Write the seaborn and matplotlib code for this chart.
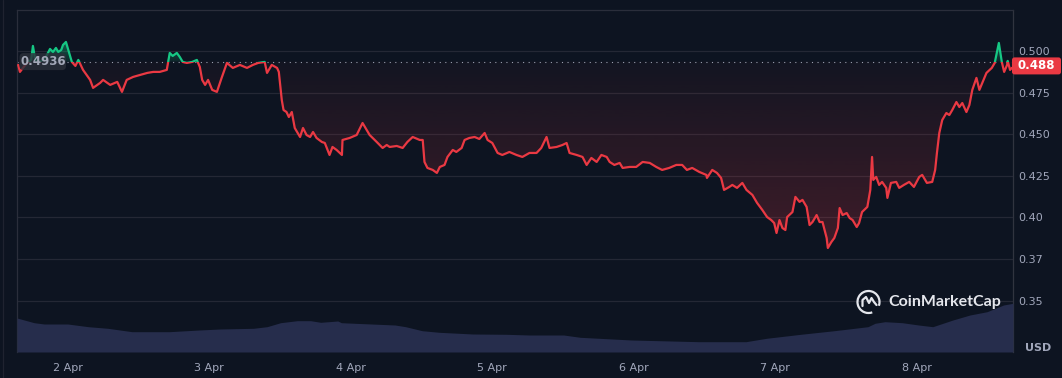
import numpy as np
import matplotlib
matplotlib.use("Agg")
import matplotlib.pyplot as plt
from matplotlib.patches import Rectangle, FancyBboxPatch, Arc
from matplotlib.transforms import IdentityTransform
import seaborn as sns
import pandas as pd

# ---------------- data (hours since 1 Apr 00:00, price in USD) ----------------
hours = [15.6, 15.9, 16.4, 17.1, 17.8, 18.1, 18.5, 19.3, 20.2, 21.0, 21.5, 22.0, 22.4, 22.9, 23.2, 23.7,
         24.1, 24.4, 24.7, 25.3, 25.8, 26.6, 27.8, 28.3, 29.5, 30.0, 31.2, 32.4, 33.2, 34.0, 35.1, 36.3,
         37.5, 38.5, 39.6, 40.8, 41.3, 41.8, 42.5, 43.0, 43.5, 44.2, 45.1, 45.9, 46.4, 46.8, 47.3, 47.8,
         48.5, 49.3, 50.1, 51.0, 52.0, 53.2, 54.4, 55.4, 56.3, 57.4, 57.8, 58.6, 59.5, 59.8, 60.3, 60.6,
         61.1, 61.5, 62.0, 62.5, 63.0, 63.4, 63.9, 64.5, 65.1, 65.6, 66.2, 67.1, 67.6, 68.4, 68.9, 69.6,
         70.5, 70.6, 71.8, 73.0, 74.0, 74.7, 75.2, 76.4, 77.4, 78.1, 78.6, 79.8, 80.8, 81.6, 82.5, 83.7,
         84.2, 84.5, 85.0, 85.9, 86.6, 87.1, 87.9, 88.4, 89.3, 89.9, 90.8, 91.3, 92.1, 93.0, 93.8, 94.7,
         95.2, 96.0, 96.9, 97.7, 98.9, 100.1, 101.1, 102.3, 103.5, 104.3, 105.2, 105.7, 106.9, 107.9, 108.6, 109.1,
         110.3, 111.3, 112.0, 112.8, 113.7, 114.5, 115.4, 115.9, 116.7, 117.6, 118.1, 119.3, 120.4, 121.5, 122.7, 123.8,
         124.8, 126.0, 127.2, 128.2, 129.0, 129.9, 131.1, 132.3, 132.4, 133.3, 134.1, 134.8, 135.3, 136.2, 136.7, 137.5,
         138.4, 139.1, 140.1, 140.9, 141.8, 142.6, 143.3, 143.8, 144.2, 144.7, 145.2, 145.7, 146.0, 146.9, 147.4, 148.1,
         148.6, 149.3, 149.8, 150.3, 151.0, 151.5, 152.0, 152.7, 152.9, 153.5, 154.0, 154.6, 154.9, 155.4, 156.1, 156.6,
         157.1, 157.8, 158.2, 158.7, 159.6, 160.1, 160.4, 160.6, 161.1, 161.6, 162.1, 162.8, 163.0, 163.6, 164.5, 165.0,
         165.8, 166.7, 167.5, 168.4, 168.9, 169.7, 170.6, 171.1, 171.4, 171.8, 172.3, 173.0, 173.5, 174.0, 174.7, 175.2,
         175.7, 176.4, 176.9, 177.4, 178.1, 178.6, 179.1, 179.8, 180.7, 181.2, 181.9, 182.4, 182.8, 183.3, 183.4, 183.8,
         184.1]
prices = [0.4916, 0.4874, 0.4898, 0.4928, 0.4946, 0.5030, 0.4946, 0.4934, 0.4958, 0.5012, 0.4994, 0.5018, 0.4994, 0.5006, 0.5036, 0.5054,
          0.5006, 0.4970, 0.4934, 0.4910, 0.4946, 0.4886, 0.4826, 0.4778, 0.4808, 0.4826, 0.4796, 0.4814, 0.4754, 0.4826, 0.4844, 0.4856,
          0.4868, 0.4874, 0.4874, 0.4886, 0.4988, 0.4970, 0.4988, 0.4964, 0.4934, 0.4928, 0.4934, 0.4946, 0.4904, 0.4826, 0.4796, 0.4826,
          0.4766, 0.4754, 0.4838, 0.4928, 0.4898, 0.4916, 0.4898, 0.4916, 0.4928, 0.4934, 0.4868, 0.4916, 0.4898, 0.4874, 0.4705, 0.4645,
          0.4633, 0.4603, 0.4633, 0.4537, 0.4507, 0.4483, 0.4537, 0.4495, 0.4483, 0.4513, 0.4477, 0.4453, 0.4447, 0.4375, 0.4423, 0.4405,
          0.4375, 0.4465, 0.4477, 0.4495, 0.4567, 0.4525, 0.4495, 0.4453, 0.4417, 0.4435, 0.4423, 0.4429, 0.4417, 0.4453, 0.4483, 0.4465,
          0.4465, 0.4333, 0.4297, 0.4285, 0.4267, 0.4303, 0.4315, 0.4363, 0.4405, 0.4393, 0.4417, 0.4465, 0.4477, 0.4483, 0.4471, 0.4507,
          0.4465, 0.4447, 0.4387, 0.4375, 0.4393, 0.4375, 0.4363, 0.4387, 0.4387, 0.4417, 0.4483, 0.4417, 0.4423, 0.4435, 0.4447, 0.4387,
          0.4375, 0.4363, 0.4315, 0.4357, 0.4333, 0.4375, 0.4363, 0.4333, 0.4315, 0.4327, 0.4297, 0.4303, 0.4303, 0.4333, 0.4327, 0.4303,
          0.4285, 0.4297, 0.4315, 0.4315, 0.4285, 0.4297, 0.4273, 0.4255, 0.4237, 0.4285, 0.4267, 0.4237, 0.4165, 0.4183, 0.4195, 0.4177,
          0.4207, 0.4165, 0.4135, 0.4087, 0.4044, 0.4002, 0.3984, 0.3966, 0.3906, 0.3984, 0.3936, 0.3924, 0.4002, 0.4032, 0.4123, 0.4093,
          0.4105, 0.4063, 0.3954, 0.3972, 0.4014, 0.3972, 0.3972, 0.3876, 0.3816, 0.3852, 0.3876, 0.3936, 0.4056, 0.4014, 0.4026, 0.3996,
          0.3984, 0.3942, 0.3966, 0.4032, 0.4063, 0.4165, 0.4363, 0.4225, 0.4243, 0.4195, 0.4213, 0.4177, 0.4117, 0.4207, 0.4213, 0.4177,
          0.4195, 0.4213, 0.4183, 0.4243, 0.4255, 0.4207, 0.4213, 0.4285, 0.4387, 0.4507, 0.4585, 0.4627, 0.4615, 0.4645, 0.4693, 0.4663,
          0.4687, 0.4633, 0.4675, 0.4766, 0.4838, 0.4766, 0.4808, 0.4868, 0.4898, 0.4928, 0.5048, 0.4934, 0.4874, 0.4916, 0.4940, 0.4886,
          0.4898]

# volume (relative units)
vol_hours = [15.4, 18.3, 20.0, 24.0, 27.5, 30.8, 34.9, 41.2, 46.3, 49.8, 55.5, 57.8, 60.1, 62.9, 65.2, 66.9,
             69.8, 70.4, 72.7, 75.5, 79.5, 81.3, 84.1, 87.0, 92.7, 98.4, 102.3, 108.1, 110.9, 119.6, 131.1, 139.0,
             142.5, 148.3, 154.0, 159.7, 160.9, 162.6, 165.5, 168.3, 170.7, 174.1, 177.0, 179.9, 182.7, 184.3]
vol_values = [340, 293, 280, 280, 253, 237, 203, 203, 220, 230, 237, 253, 293, 313, 313, 297,
              310, 293, 287, 280, 270, 253, 213, 197, 180, 177, 170, 170, 147, 120, 103, 103,
              137, 177, 213, 253, 287, 303, 293, 270, 253, 320, 370, 403, 470, 487]

baseline = 0.4936
baseline_label = "0.4936"
last_label = "0.488"
ytick_vals = [0.35, 0.375, 0.40, 0.425, 0.45, 0.475, 0.50]
ytick_labels = ["0.35", "0.37", "0.40", "0.425", "0.450", "0.475", "0.500"]
xtick_vals = [24, 48, 72, 96, 120, 144, 168]
xtick_labels = ["2 Apr", "3 Apr", "4 Apr", "5 Apr", "6 Apr", "7 Apr", "8 Apr"]
x_range = (15.4, 184.3)
y_range = (0.3191, 0.5246)

# ---------------- style ----------------
BG = "#0d1421"
RED = "#ea3943"
GREEN = "#16c784"
GRID = "#242835"
TICK = "#a1a7bb"
VOL = "#262d4c"

sns.set_theme(style="dark")
plt.rcParams["font.family"] = ["DejaVu Sans"]

W, H = 1062, 378
fig = plt.figure(figsize=(W / 100, H / 100), dpi=100, facecolor=BG)
ax = fig.add_axes([17 / W, (H - 352) / H, 996 / W, 342 / H])
ax.set_facecolor(BG)

df = pd.DataFrame({"t": hours, "p": prices})
t = np.array(hours)
p = np.array(prices)

# volume band on twin axis
ax2 = ax.twinx()
ax2.fill_between(vol_hours, vol_values, 0, color=VOL, lw=0, zorder=1)
ax2.set_ylim(0, 3420)
ax2.set_yticks([])
for s in ax2.spines.values():
    s.set_visible(False)
ax2.grid(False)

# gradient fills
lower = np.minimum(p, baseline)
poly_r = ax.fill_between(t, lower, baseline, color="none", lw=0)
n = 256
rgba = np.zeros((n, 1, 4))
rgba[:, 0, :3] = matplotlib.colors.to_rgb(RED)
rgba[:, 0, 3] = np.linspace(0.03, 0.23, n)
im = ax.imshow(rgba, extent=[t[0], t[-1], p.min(), baseline], origin="upper",
               aspect="auto", zorder=1.5, interpolation="bilinear")
im.set_clip_path(poly_r.get_paths()[0], transform=ax.transData)

upper = np.maximum(p, baseline)
poly_g = ax.fill_between(t, baseline, upper, color="none", lw=0)
rgba_g = np.zeros((n, 1, 4))
rgba_g[:, 0, :3] = matplotlib.colors.to_rgb(GREEN)
rgba_g[:, 0, 3] = np.linspace(0.42, 0.10, n)
img = ax.imshow(rgba_g, extent=[t[0], t[-1], baseline, p.max()], origin="upper",
                aspect="auto", zorder=1.5, interpolation="bilinear")
img.set_clip_path(poly_g.get_paths()[0], transform=ax.transData)

# price line: red below baseline, green above
sns.lineplot(data=df, x="t", y="p", ax=ax, color=RED, lw=1.6, estimator=None, zorder=3)
red_line = ax.lines[-1]
sns.lineplot(data=df, x="t", y="p", ax=ax, color=GREEN, lw=1.6, estimator=None, zorder=3.1)
green_line = ax.lines[-1]
red_line.set_clip_path(Rectangle((x_range[0], y_range[0]), 300, baseline - y_range[0],
                                 transform=ax.transData))
green_line.set_clip_path(Rectangle((x_range[0], baseline), 300, 0.2, transform=ax.transData))

# baseline dotted
ax.axhline(baseline, color="#9aa0b0", lw=0.8, ls=(0, (1, 4)), zorder=2.5)

# axes
ax.set_xlim(*x_range)
ax.set_ylim(*y_range)
ax.set_xlabel("")
ax.set_ylabel("")
ax.yaxis.tick_right()
ax.set_yticks(ytick_vals)
ax.set_yticklabels(ytick_labels)
ax.set_xticks(xtick_vals)
ax.set_xticklabels(xtick_labels)
ax.tick_params(axis="y", length=0, pad=4, labelsize=8, labelcolor=TICK)
ax.tick_params(axis="x", length=0, pad=8, labelsize=8, labelcolor=TICK)
ax.grid(axis="y", color=GRID, lw=0.9)
ax.grid(axis="x", visible=False)
for name, s in ax.spines.items():
    s.set_visible(name in ("top", "left", "right"))
    s.set_color("#2a2e3b")
    s.set_linewidth(0.9)
ax.spines["right"].set_color("#30343f")

# last price tag
fig.canvas.draw()
_, ylast = ax.transData.transform((t[-1], p[-1]))
ytag = ylast + 2
tag = FancyBboxPatch((1012, ytag - 8.5), 49, 17, boxstyle="round,pad=0,rounding_size=2.5",
                     transform=IdentityTransform(), facecolor=RED, edgecolor="none", zorder=10)
fig.patches.append(tag)
fig.text(1017 / W, ytag / H, last_label, color="white", fontsize=8.5, fontweight="bold",
         ha="left", va="center", zorder=11)

# baseline tag on the left
_, ybase = ax.transData.transform((t[0], baseline))
btag = FancyBboxPatch((19.5, ybase - 8.5), 46.5, 17, boxstyle="round,pad=0,rounding_size=4",
                      transform=IdentityTransform(), facecolor="#2c303b", alpha=0.8,
                      edgecolor="none", zorder=10)
fig.patches.append(btag)
fig.text(43 / W, ybase / H, baseline_label, color="#a3a8b8", fontsize=8.5, fontweight="bold",
         ha="center", va="center", zorder=11)

# USD label
fig.text(1038 / W, 1 - 348 / H, "USD", color=TICK, fontsize=8, fontweight="bold",
         ha="center", va="center")

# watermark
cx, cy = 868.5, H - 302
logo = Arc((cx, cy), 22, 22, theta1=-20, theta2=290, transform=IdentityTransform(),
           color="#e4e6ec", lw=1.6, zorder=12)
fig.patches.append(logo)
mx = np.array([-6, -6, -2.5, 0.5, 3, 5.5, 8])
my = np.array([-4, 2, 5, -1, 4, 0, -3])
fig.lines.append(matplotlib.lines.Line2D(cx + mx, cy + my, transform=IdentityTransform(),
                                          color="#e4e6ec", lw=1.6, zorder=12,
                                          solid_capstyle="round", solid_joinstyle="round"))
fig.text(888 / W, 1 - 302 / H, "CoinMarketCap", color="#e4e6ec", fontsize=11.5,
         fontweight="bold", family=["Lato", "DejaVu Sans"], ha="left", va="center", zorder=12)

# faint left frame line
fig.lines.append(matplotlib.lines.Line2D([2.5 / W, 2.5 / W], [0, 1], transform=fig.transFigure,
                                          color="#1f2330", lw=0.9))

fig.savefig("out.png", dpi=100, facecolor=BG)
